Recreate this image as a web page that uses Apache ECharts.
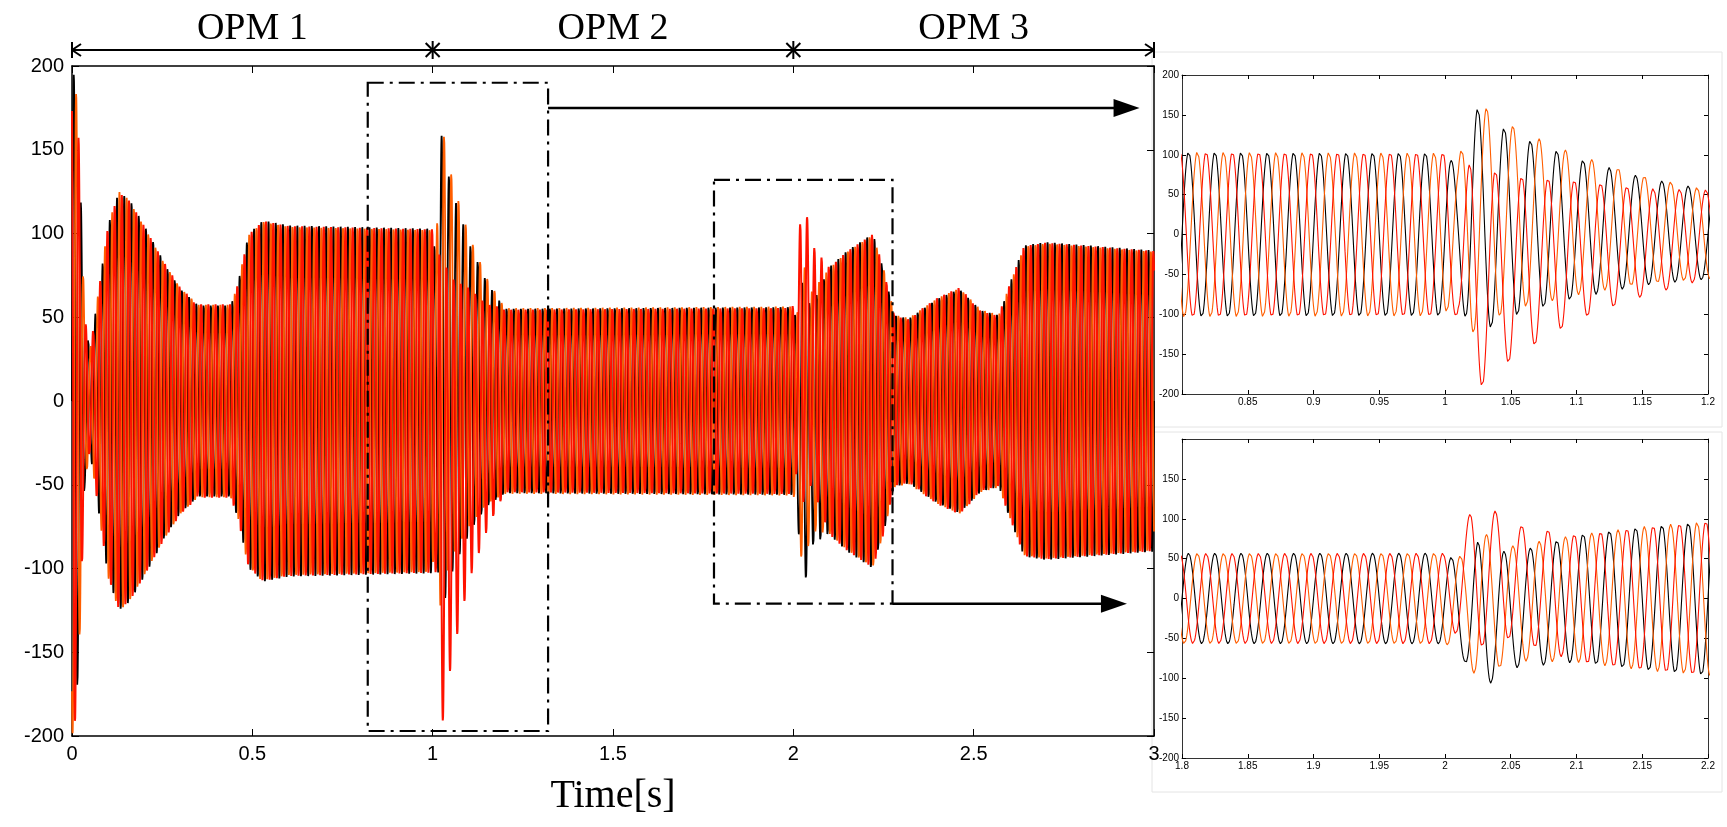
<!DOCTYPE html>
<html>
<head>
<meta charset="utf-8">
<script src="https://cdn.jsdelivr.net/npm/echarts@6/dist/echarts.min.js"></script>
<style>html,body{margin:0;background:#fff}#c{width:1727px;height:827px}</style>
</head>
<body>
<div id="c"></div>
<script>
// envelope of the phase currents (time in s, amplitude)
const envT = [0, 0.01, 0.02, 0.035, 0.05, 0.07, 0.1, 0.13, 0.16, 0.2, 0.25, 0.3, 0.35, 0.44, 0.46, 0.49, 0.53, 0.6, 1.0, 1.01, 1.02, 1.04, 1.06, 1.1, 1.15, 1.2, 1.25, 2.0, 2.015, 2.025, 2.05, 2.1, 2.15, 2.22, 2.25, 2.28, 2.32, 2.4, 2.46, 2.52, 2.57, 2.6, 2.64, 2.7, 3.0];
const envA = [200, 190, 150, 50, 30, 60, 105, 125, 120, 105, 85, 68, 58, 58, 70, 100, 108, 105, 103, 75, 150, 125, 110, 88, 68, 56, 56, 57, 60, 95, 72, 80, 90, 100, 80, 52, 50, 62, 68, 55, 52, 70, 93, 95, 90];
// per-phase offsets during the disturbances
const dcT = [0, 1.0, 1.02, 1.1, 1.2, 2.0, 2.02, 2.1, 3.0];
const dcBlack = [0, 0, 15, 8, 0, 0, -25, 0, 0];
const dcOrange = [0, 0, 25, 12, 0, 0, -10, 0, 0];
const dcRed = [0, 0, -55, -20, 0, 0, 35, 0, 0];
const phaseNames = ['Ia', 'Ib', 'Ic'];
const phaseColors = ['#000000', '#ff5e00', '#ff1200'];
const phaseShift = [0, -120, 120];
const opmLabels = ['OPM 1', 'OPM 2', 'OPM 3'];
const zoomBoxes = [[0.82, 1.32, -197, 190], [1.78, 2.275, -121, 132]];

function knot(ts, vs, t) {
  let i = 1;
  while (i < ts.length - 1 && ts[i] < t) i++;
  const f = (t - ts[i - 1]) / (ts[i] - ts[i - 1]);
  return vs[i - 1] + (vs[i] - vs[i - 1]) * Math.max(0, Math.min(1, f));
}

const dcs = [dcBlack, dcOrange, dcRed];
const wave = phaseNames.map((n, k) => {
  const pts = [];
  for (let i = 0; i <= 7500; i++) {
    const t = i / 2500;
    const a = knot(envT, envA, t);
    let v = a * Math.sin(2 * Math.PI * 50 * t + phaseShift[k] * Math.PI / 180) + knot(dcT, dcs[k], t);
    pts.push([t, Math.max(-200, Math.min(200, v))]);
  }
  return pts;
});

const chart = echarts.init(document.getElementById('c'));
const grids = [
  { left: 72, right: 573, top: 66, bottom: 91 },
  { left: 1182, right: 19, top: 75, bottom: 433 },
  { left: 1182, right: 19, top: 439, bottom: 69 }
];
const xr = [[0, 3, 0.5], [0.8, 1.2, 0.05], [1.8, 2.2, 0.05]];
const fs = [20, 10, 10];
const xAxis = [], yAxis = [], series = [];
grids.forEach((g, i) => {
  const lab = { color: '#000', fontSize: fs[i], fontFamily: 'Liberation Sans', margin: i ? 3 : 8 };
  const base = { type: 'value', gridIndex: i, axisLine: { onZero: false, lineStyle: { color: i ? '#333' : '#000', width: i ? 1 : 1.5 } },
    axisTick: { inside: true, length: i ? 4 : 7, lineStyle: { color: '#000' } }, splitLine: { show: false } };
  xAxis.push(Object.assign({}, base, { min: xr[i][0], max: xr[i][1], interval: xr[i][2],
    axisLabel: Object.assign({}, lab, { formatter: v => (i === 1 && v === 0.8) ? '' : String(+v.toFixed(2)) }) }));
  xAxis.push(Object.assign({}, base, { position: 'top', min: xr[i][0], max: xr[i][1], interval: xr[i][2], axisLabel: { show: false } }));
  yAxis.push(Object.assign({}, base, { min: -200, max: 200, interval: 50,
    axisLabel: Object.assign({}, lab, { formatter: v => (i === 2 && v === 200) ? '' : String(v) }) }));
  yAxis.push(Object.assign({}, base, { position: 'right', min: -200, max: 200, interval: 50, axisLabel: { show: false } }));
  wave.forEach((d, k) => series.push({
    type: 'line', name: phaseNames[k], xAxisIndex: 2 * i, yAxisIndex: 2 * i, data: d, showSymbol: false,
    clip: true, silent: true, animation: false,
    lineStyle: { color: phaseColors[k], width: i ? 1.1 : (k === 2 ? 2 : 1.8) }
  }));
});

chart.setOption({ animation: false, grid: grids, xAxis, yAxis, series });

// annotations placed through the main axes
const px = (t, v) => chart.convertToPixel({ xAxisIndex: 0, yAxisIndex: 0 }, [t, v]);
const gfx = [];
const ln = (a, b, w, dash) => gfx.push({ type: 'line', shape: { x1: a[0], y1: a[1], x2: b[0], y2: b[1] },
  style: { stroke: '#000', lineWidth: w, lineDash: dash || null }, z: 100 });
const yTop = px(0, 200)[1] - 16;
ln([px(0, 0)[0], yTop], [px(3, 0)[0], yTop], 2);
[0, 1, 2, 3].forEach(s => {
  const x = px(s, 0)[0];
  if (s === 0) { ln([x, yTop], [x + 9, yTop - 6], 2); ln([x, yTop], [x + 9, yTop + 6], 2); ln([x, yTop - 8], [x, yTop + 8], 2); }
  else if (s === 3) { ln([x, yTop], [x - 9, yTop - 6], 2); ln([x, yTop], [x - 9, yTop + 6], 2); ln([x, yTop - 8], [x, yTop + 8], 2); }
  else { ln([x - 7, yTop - 7], [x + 7, yTop + 7], 2); ln([x - 7, yTop + 7], [x + 7, yTop - 7], 2); ln([x, yTop - 9], [x, yTop + 9], 2); }
});
opmLabels.forEach((s, i) => gfx.push({ type: 'text', x: px(i + 0.5, 0)[0], y: yTop - 2,
  style: { text: s, font: '38px "Liberation Serif"', fill: '#000', align: 'center', verticalAlign: 'bottom' }, z: 100 }));
zoomBoxes.forEach(b => {
  const p1 = px(b[0], b[3]), p2 = px(b[1], b[2]);
  gfx.push({ type: 'rect', shape: { x: p1[0], y: p1[1], width: p2[0] - p1[0], height: p2[1] - p1[1] },
    style: { fill: null, stroke: '#000', lineWidth: 2.2, lineDash: [16, 6, 3, 6] }, z: 100 });
});
const arrow = (t0, t1, v) => {
  const a = px(t0, v), b = px(t1, v);
  ln(a, [b[0] - 20, b[1]], 2.5);
  gfx.push({ type: 'polygon', shape: { points: [[b[0], b[1]], [b[0] - 26, b[1] - 9], [b[0] - 26, b[1] + 9]] }, style: { fill: '#000' }, z: 100 });
};
arrow(1.32, 2.96, 175);
arrow(2.275, 2.925, -121);
gfx.push({ type: 'text', x: px(1.5, 0)[0], y: 796,
  style: { text: 'Time[s]', font: '40px "Liberation Serif"', fill: '#000', align: 'center', verticalAlign: 'middle' } });
gfx.push({ type: 'rect', shape: { x: 1152, y: 52, width: 570, height: 375 }, style: { fill: null, stroke: '#e4e4e4', lineWidth: 1 } });
gfx.push({ type: 'rect', shape: { x: 1152, y: 432, width: 570, height: 360 }, style: { fill: null, stroke: '#e4e4e4', lineWidth: 1 } });
chart.setOption({ graphic: gfx });
</script>
</body>
</html>
